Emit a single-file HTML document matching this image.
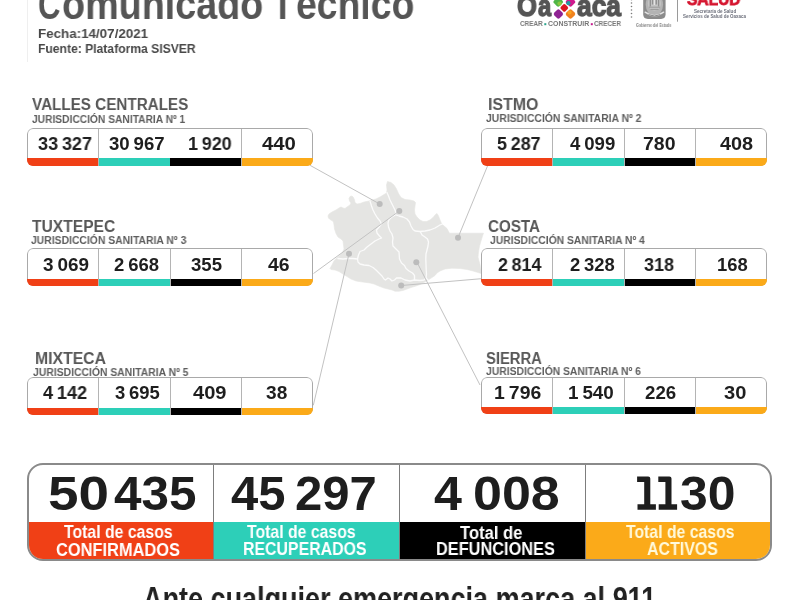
<!DOCTYPE html>
<html lang="es">
<head>
<meta charset="utf-8">
<title>Comunicado Técnico</title>
<style>
html,body{margin:0;padding:0;background:#fff}
body{width:800px;height:600px;overflow:hidden;position:relative;font-family:"Liberation Sans",sans-serif}
.t{position:absolute;white-space:nowrap;line-height:1;transform-origin:0 0;font-weight:bold;will-change:transform}
.rb{position:absolute;width:286px;border-radius:6px;overflow:hidden;background:#fff}
.rb .fr{position:absolute;left:0;top:0;right:0;bottom:0;border:1px solid #a9a9a9;border-radius:6px;box-sizing:border-box}
.rb .s{position:absolute;bottom:0;height:7px}
.rb .d{position:absolute;top:1px;bottom:0;width:1px;background:#b4b4b4}
.c1{background:#f04016}.c2{background:#2dcfb8}.c3{background:#000}.c4{background:#fbaa19}
.tot{position:absolute;left:27px;top:463px;width:745px;height:98px;box-sizing:border-box;border:2px solid #8a8a8a;border-radius:16px;overflow:hidden;background:#fff}
.tot .b{position:absolute;top:57px;bottom:0}
.tot .d{position:absolute;top:0;bottom:0;width:1px;background:#7d7d7d}
svg{position:absolute;left:0;top:0}
</style>
</head>
<body>
<!-- map + leader lines -->
<svg width="800" height="600" viewBox="0 0 800 600">
<line x1="27.5" y1="0" x2="27.5" y2="62" stroke="#efefef" stroke-width="1"/>
<polygon points="387.5,181.5 391.0,182.5 394.0,185.0 396.5,189.0 398.5,193.5 401.0,197.5 405.0,199.5 410.0,200.0 414.0,201.0 415.5,202.5 415.0,206.0 414.5,210.0 415.0,214.0 417.0,217.0 420.0,220.0 423.0,221.5 426.5,221.5 430.0,220.0 433.0,217.5 435.5,214.5 437.0,213.5 438.5,216.0 440.0,220.0 441.5,223.5 444.0,226.0 447.0,228.5 448.5,231.5 449.5,233.2 483.5,233.2 482.5,236.0 481.0,241.0 479.5,246.0 478.5,252.0 478.0,257.0 479.0,261.0 480.0,264.5 480.5,268.0 483.0,274.0 478.0,272.5 473.0,271.0 467.0,269.5 460.0,268.5 452.0,268.2 445.0,269.0 440.0,271.0 437.0,273.0 435.0,275.5 432.0,277.5 428.0,280.0 424.0,282.5 420.0,284.5 416.0,286.0 411.0,287.5 407.0,289.0 403.0,290.5 399.0,291.2 395.0,291.2 392.0,290.0 388.0,289.0 384.0,288.0 380.0,286.5 377.0,285.3 374.0,284.0 370.0,283.0 366.0,282.4 361.0,281.8 356.0,281.0 351.0,279.0 347.0,276.5 343.0,274.0 339.0,271.5 335.0,270.0 331.0,269.5 330.0,268.5 332.0,265.0 334.0,261.0 337.0,257.5 340.0,255.0 342.5,252.5 344.0,249.0 343.5,245.0 343.0,241.0 341.0,239.0 338.0,237.0 336.0,233.5 334.5,229.0 334.0,225.0 333.5,222.0 332.0,220.5 330.0,219.5 328.5,218.0 328.0,216.0 329.0,214.0 332.0,212.0 336.0,210.0 339.0,208.0 341.0,207.0 343.0,208.0 345.0,208.5 347.0,207.0 350.0,205.0 351.0,203.0 349.5,201.0 349.0,198.5 350.0,196.5 352.0,196.0 353.5,197.5 354.5,200.0 355.0,202.5 357.0,204.0 360.0,203.5 364.0,202.0 369.0,201.0 370.0,200.5 376.0,199.0 380.0,197.0 384.0,194.5 386.5,193.0 387.0,190.0 386.5,185.0" fill="#e5e5e3" stroke="#e5e5e3" stroke-width="0.6" stroke-linejoin="round"/>
<polyline points="370.0,201.0 371.5,206.0 373.0,210.0 375.0,214.0 377.5,218.0 380.0,221.0 381.5,224.0 379.0,227.0 376.5,230.0 377.0,233.0 379.5,236.0 381.5,238.0 379.0,239.0 375.0,241.0 371.0,244.0 367.0,247.0 364.0,250.0 360.0,251.5 358.5,255.0 357.5,259.0" fill="none" stroke="#fbfbfb" stroke-width="1.3" stroke-linejoin="round" stroke-linecap="round"/>
<polyline points="338.0,258.5 343.0,259.0 348.0,258.5 353.0,258.5 357.5,259.0" fill="none" stroke="#fbfbfb" stroke-width="1.3" stroke-linejoin="round" stroke-linecap="round"/>
<polyline points="357.5,259.0 358.0,262.0 360.0,264.0 364.0,265.0 369.0,265.5 373.0,267.5 376.0,270.0 379.0,273.0 382.0,276.0 384.0,279.0 385.5,280.0 388.0,278.0 390.0,279.0 392.0,281.0 394.5,280.0 396.5,278.0 401.0,278.0 405.0,280.0 410.0,281.0 414.5,280.0 420.0,280.5 424.0,280.0 426.0,278.0" fill="none" stroke="#fbfbfb" stroke-width="1.3" stroke-linejoin="round" stroke-linecap="round"/>
<polyline points="387.0,192.5 388.5,196.0 390.0,200.0 392.0,204.0 393.5,207.0 395.0,210.0 396.0,213.0 395.0,215.0 392.0,217.0 389.0,219.5 388.0,223.0 388.5,227.0 390.0,231.0 392.0,234.0 393.0,238.0 392.5,242.0 393.0,246.0 396.0,249.0 399.0,252.0 399.5,259.0 401.5,263.0 404.5,265.5 406.0,268.5 409.0,271.0 412.5,273.0 414.5,275.5 414.5,280.0" fill="none" stroke="#fbfbfb" stroke-width="1.3" stroke-linejoin="round" stroke-linecap="round"/>
<polyline points="396.0,215.0 399.0,216.0 403.0,217.0 407.0,219.0 409.5,222.0 411.0,226.0 413.0,229.5 415.0,231.0 420.0,231.5 425.0,231.0 430.0,230.0 435.0,228.0 440.0,225.0 442.5,224.0" fill="none" stroke="#fbfbfb" stroke-width="1.3" stroke-linejoin="round" stroke-linecap="round"/>
<polyline points="420.0,231.5 421.0,233.0 422.0,235.0 425.0,237.0 427.5,239.0 428.5,242.0 428.0,246.0 427.0,250.0 426.0,254.0 425.8,259.0 426.0,264.0 426.2,270.0 426.5,274.0 426.0,278.0 428.0,280.0" fill="none" stroke="#fbfbfb" stroke-width="1.3" stroke-linejoin="round" stroke-linecap="round"/>
<line x1="310.0" y1="165.3" x2="379.7" y2="204.0" stroke="#c2c2c2" stroke-width="1"/>
<line x1="313.5" y1="273.5" x2="399.3" y2="211.0" stroke="#c2c2c2" stroke-width="1"/>
<line x1="313.3" y1="405.3" x2="349.0" y2="253.8" stroke="#c2c2c2" stroke-width="1"/>
<line x1="487.5" y1="166.0" x2="458.0" y2="237.7" stroke="#c2c2c2" stroke-width="1"/>
<line x1="481.5" y1="278.7" x2="401.2" y2="285.5" stroke="#c2c2c2" stroke-width="1"/>
<line x1="480.0" y1="385.0" x2="417.0" y2="262.3" stroke="#c2c2c2" stroke-width="1"/>
<circle cx="379.7" cy="204.0" r="3" fill="#bcbcbc"/>
<circle cx="399.3" cy="211.0" r="3" fill="#bcbcbc"/>
<circle cx="349.0" cy="253.8" r="3" fill="#bcbcbc"/>
<circle cx="416.3" cy="262.3" r="3" fill="#bcbcbc"/>
<circle cx="401.2" cy="285.5" r="3" fill="#bcbcbc"/>
<circle cx="458.0" cy="237.7" r="3" fill="#bcbcbc"/>
</svg>

<!-- region boxes -->
<div class="rb" style="left:27px;top:128px;height:38px"><i class="fr"></i><i class="s c1" style="height:8px;left:0;width:71px"></i><i class="s c2" style="height:8px;left:71px;width:72px"></i><i class="s c3" style="height:8px;left:143px;width:71px"></i><i class="s c4" style="height:8px;left:214px;right:0"></i><i class="d" style="left:71px"></i><i class="d" style="left:214px"></i></div>
<div class="rb" style="left:27px;top:248px;height:38px"><i class="fr"></i><i class="s c1" style="left:0;width:71px"></i><i class="s c2" style="left:71px;width:72px"></i><i class="s c3" style="left:143px;width:71px"></i><i class="s c4" style="left:214px;right:0"></i><i class="d" style="left:71px"></i><i class="d" style="left:143px"></i><i class="d" style="left:214px"></i></div>
<div class="rb" style="left:27px;top:377px;height:38px"><i class="fr"></i><i class="s c1" style="left:0;width:71px"></i><i class="s c2" style="left:71px;width:72px"></i><i class="s c3" style="left:143px;width:71px"></i><i class="s c4" style="left:214px;right:0"></i><i class="d" style="left:71px"></i><i class="d" style="left:143px"></i><i class="d" style="left:214px"></i></div>
<div class="rb" style="left:481px;top:128px;height:38px"><i class="fr"></i><i class="s c1" style="height:8px;left:0;width:71px"></i><i class="s c2" style="height:8px;left:71px;width:72px"></i><i class="s c3" style="height:8px;left:143px;width:71px"></i><i class="s c4" style="height:8px;left:214px;right:0"></i><i class="d" style="left:71px"></i><i class="d" style="left:143px"></i><i class="d" style="left:214px"></i></div>
<div class="rb" style="left:481px;top:248px;height:38px"><i class="fr"></i><i class="s c1" style="left:0;width:71px"></i><i class="s c2" style="left:71px;width:72px"></i><i class="s c3" style="left:143px;width:71px"></i><i class="s c4" style="left:214px;right:0"></i><i class="d" style="left:71px"></i><i class="d" style="left:143px"></i><i class="d" style="left:214px"></i></div>
<div class="rb" style="left:481px;top:377px;height:37px"><i class="fr"></i><i class="s c1" style="left:0;width:71px"></i><i class="s c2" style="left:71px;width:72px"></i><i class="s c3" style="left:143px;width:71px"></i><i class="s c4" style="left:214px;right:0"></i><i class="d" style="left:71px"></i><i class="d" style="left:143px"></i><i class="d" style="left:214px"></i></div>

<!-- totals -->
<div class="tot">
  <i class="b c1" style="left:0;width:185px"></i>
  <i class="b c2" style="left:185px;width:186px"></i>
  <i class="b c3" style="left:371px;width:186px"></i>
  <i class="b c4" style="left:557px;right:0"></i>
  <i class="d" style="left:184px"></i>
  <i class="d" style="left:370px"></i>
  <i class="d" style="left:556px"></i>
</div>

<!-- logos -->
<svg width="800" height="40" viewBox="0 0 800 40">
<rect x="554.31" y="-1.99" width="7.78" height="7.78" rx="2.00" fill="#4fb547" transform="rotate(45 558.20 1.90)"/>
<circle cx="559.6" cy="3.6" r="2.2" fill="#8cc63f"/>
<rect x="566.61" y="-1.99" width="7.78" height="7.78" rx="2.00" fill="#cf1a8d" transform="rotate(45 570.50 1.90)"/>
<circle cx="568.4" cy="3.2" r="2.1" fill="#1f9aa0"/>
<rect x="554.58" y="10.18" width="7.64" height="7.64" rx="2.00" fill="#8f2393" transform="rotate(45 558.40 14.00)"/>
<rect x="566.61" y="10.11" width="7.78" height="7.78" rx="2.00" fill="#f0821e" transform="rotate(45 570.50 14.00)"/>
<circle cx="569.6" cy="12.6" r="2.0" fill="#f9a41f"/>
<rect x="561.12" y="4.72" width="6.36" height="6.36" rx="1.60" fill="#dc141e" transform="rotate(45 564.30 7.90)"/>
<rect x="544.3" y="23.2" width="2" height="2" fill="#2aa38a"/>
<rect x="590.8" y="23.2" width="2" height="2" fill="#c5198d"/>
<circle cx="631.5" cy="-0.4" r="0.8" fill="#7c7c7c"/>
<circle cx="631.5" cy="3.0" r="0.8" fill="#7c7c7c"/>
<circle cx="631.5" cy="6.5" r="0.8" fill="#7c7c7c"/>
<circle cx="631.5" cy="10.0" r="0.8" fill="#7c7c7c"/>
<circle cx="631.5" cy="13.5" r="0.8" fill="#7c7c7c"/>
<circle cx="631.5" cy="17.0" r="0.8" fill="#7c7c7c"/>
<path d="M643.2,-2 H665.6 V14.3 Q665.6,18.9 661,18.9 H647.8 Q643.2,18.9 643.2,14.3 Z" fill="#8b8b8b"/>
<ellipse cx="654.4" cy="4.5" rx="8.7" ry="11.2" fill="#b4b4b4"/>
<ellipse cx="654.4" cy="3.5" rx="6.6" ry="7.2" fill="#c4c4c4"/>
<path d="M650.3,0 V6.5 M652.6,-1 V4.5 M656.3,-1 V4.5 M658.6,0 V6.5" stroke="#909090" stroke-width="1.3"/>
<path d="M649,7.2 H660 M650.5,9.4 H658.5" stroke="#999" stroke-width="1"/>
<path d="M654.4,-1 V5" stroke="#e4e4e4" stroke-width="1.2"/>
<path d="M645.2,12.2 Q654.4,19.2 663.6,12.2" fill="none" stroke="#e2e2e2" stroke-width="1.5" stroke-linecap="round"/>
<path d="M648.5,14.6 Q654.4,17.6 660.3,14.6" fill="none" stroke="#858585" stroke-width="1"/>
<line x1="677.5" y1="0" x2="677.5" y2="21.7" stroke="#9a9a9a" stroke-width="1"/>
</svg>

<svg width="800" height="600" viewBox="0 0 800 600" style="pointer-events:none"><title>11</title>
<path d="M637.1,476.4 H648.2 Q650.3,476.4 650.3,478.5 V504.2 H655.9 V509.8 H637.5 V504.2 H644.2 V481.9 H637.1 Z" fill="#1e1e1e"/>
<path d="M637.1,476.4 H648.2 Q650.3,476.4 650.3,478.5 V504.2 H655.9 V509.8 H637.5 V504.2 H644.2 V481.9 H637.1 Z" fill="#1e1e1e" transform="translate(21.2 0)"/>
</svg>
<span class="t" style="left:38.26px;top:-16.45px;font-size:42.00px;color:#555;font-weight:bold;transform:scaleX(0.7395);">C</span>
<span class="t" style="left:62.37px;top:-16.45px;font-size:42.00px;color:#555;font-weight:bold;transform:scaleX(0.8986);">omunicado</span>
<span class="t" style="left:272.15px;top:-16.45px;font-size:42.00px;color:#555;font-weight:bold;transform:scaleX(0.8333);">T</span>
<span class="t" style="left:295.88px;top:-16.45px;font-size:42.00px;color:#555;font-weight:bold;transform:scaleX(0.8889);">écnico</span>
<span class="t" style="left:37.70px;top:26.91px;font-size:13.57px;color:#484848;font-weight:bold;transform:scaleX(0.9865);">Fecha:14/07/2021</span>
<span class="t" style="left:37.77px;top:41.51px;font-size:13.57px;color:#484848;font-weight:bold;transform:scaleX(0.8941);">Fuente: Plataforma SISVER</span>
<span class="t" style="left:31.60px;top:96.49px;font-size:17.14px;color:#575757;font-weight:bold;transform:scaleX(0.8896);">VALLES CENTRALES</span>
<span class="t" style="left:32.04px;top:217.99px;font-size:17.14px;color:#575757;font-weight:bold;transform:scaleX(0.9110);">TUXTEPEC</span>
<span class="t" style="left:35.35px;top:349.69px;font-size:17.14px;color:#575757;font-weight:bold;transform:scaleX(0.9203);">MIXTECA</span>
<span class="t" style="left:487.65px;top:95.89px;font-size:17.14px;color:#575757;font-weight:bold;transform:scaleX(0.9277);">ISTMO</span>
<span class="t" style="left:487.99px;top:218.07px;font-size:17.29px;color:#575757;font-weight:bold;transform:scaleX(0.8772);">COSTA</span>
<span class="t" style="left:485.60px;top:349.99px;font-size:17.14px;color:#575757;font-weight:bold;transform:scaleX(0.8634);">SIERRA</span>
<span class="t" style="left:32.40px;top:114.15px;font-size:10.57px;color:#5e5e5e;font-weight:bold;transform:scaleX(0.9688);">JURISDICCIÓN SANITARIA Nº 1</span>
<span class="t" style="left:31.30px;top:235.49px;font-size:11.00px;color:#5e5e5e;font-weight:bold;transform:scaleX(0.9426);">JURISDICCIÓN SANITARIA Nº 3</span>
<span class="t" style="left:33.00px;top:367.13px;font-size:10.71px;color:#5e5e5e;font-weight:bold;transform:scaleX(0.9702);">JURISDICCIÓN SANITARIA Nº 5</span>
<span class="t" style="left:485.90px;top:113.35px;font-size:10.57px;color:#5e5e5e;font-weight:bold;transform:scaleX(0.9827);">JURISDICCIÓN SANITARIA Nº 2</span>
<span class="t" style="left:490.00px;top:235.23px;font-size:10.71px;color:#5e5e5e;font-weight:bold;transform:scaleX(0.9658);">JURISDICCIÓN SANITARIA Nº 4</span>
<span class="t" style="left:485.80px;top:365.93px;font-size:10.71px;color:#5e5e5e;font-weight:bold;transform:scaleX(0.9665);">JURISDICCIÓN SANITARIA Nº 6</span>
<span class="t" style="left:37.64px;top:134.82px;font-size:18.29px;color:#1e1e1e;font-weight:bold;transform:scaleX(0.9884);word-spacing:-1.28px;">33 327</span>
<span class="t" style="left:108.63px;top:134.82px;font-size:18.29px;color:#1e1e1e;font-weight:bold;transform:scaleX(1.0182);word-spacing:-1.28px;">30 967</span>
<span class="t" style="left:187.92px;top:134.82px;font-size:18.29px;color:#1e1e1e;font-weight:bold;transform:scaleX(0.9831);word-spacing:-1.28px;">1 920</span>
<span class="t" style="left:261.80px;top:134.82px;font-size:18.29px;color:#1e1e1e;font-weight:bold;transform:scaleX(1.1124);word-spacing:-1.28px;">440</span>
<span class="t" style="left:497.46px;top:134.82px;font-size:18.29px;color:#1e1e1e;font-weight:bold;transform:scaleX(0.9799);word-spacing:-1.28px;">5 287</span>
<span class="t" style="left:569.81px;top:134.82px;font-size:18.29px;color:#1e1e1e;font-weight:bold;transform:scaleX(1.0175);word-spacing:-1.28px;">4 099</span>
<span class="t" style="left:642.82px;top:134.82px;font-size:18.29px;color:#1e1e1e;font-weight:bold;transform:scaleX(1.0647);word-spacing:-1.28px;">780</span>
<span class="t" style="left:719.80px;top:134.82px;font-size:18.29px;color:#1e1e1e;font-weight:bold;transform:scaleX(1.0855);word-spacing:-1.28px;">408</span>
<span class="t" style="left:42.62px;top:255.80px;font-size:18.43px;color:#1e1e1e;font-weight:bold;transform:scaleX(1.0276);word-spacing:-1.29px;">3 069</span>
<span class="t" style="left:114.44px;top:255.80px;font-size:18.43px;color:#1e1e1e;font-weight:bold;transform:scaleX(1.0048);word-spacing:-1.29px;">2 668</span>
<span class="t" style="left:190.93px;top:255.80px;font-size:18.43px;color:#1e1e1e;font-weight:bold;transform:scaleX(1.0101);word-spacing:-1.29px;">355</span>
<span class="t" style="left:267.61px;top:255.80px;font-size:18.43px;color:#1e1e1e;font-weight:bold;transform:scaleX(1.0536);word-spacing:-1.29px;">46</span>
<span class="t" style="left:498.46px;top:255.80px;font-size:18.43px;color:#1e1e1e;font-weight:bold;transform:scaleX(0.9697);word-spacing:-1.29px;">2 814</span>
<span class="t" style="left:570.45px;top:255.80px;font-size:18.43px;color:#1e1e1e;font-weight:bold;transform:scaleX(0.9911);word-spacing:-1.29px;">2 328</span>
<span class="t" style="left:644.04px;top:255.80px;font-size:18.43px;color:#1e1e1e;font-weight:bold;transform:scaleX(0.9767);word-spacing:-1.29px;">318</span>
<span class="t" style="left:716.90px;top:255.80px;font-size:18.43px;color:#1e1e1e;font-weight:bold;transform:scaleX(0.9945);word-spacing:-1.29px;">168</span>
<span class="t" style="left:43.42px;top:384.20px;font-size:18.43px;color:#1e1e1e;font-weight:bold;transform:scaleX(0.9869);word-spacing:-1.29px;">4 142</span>
<span class="t" style="left:114.63px;top:384.20px;font-size:18.43px;color:#1e1e1e;font-weight:bold;transform:scaleX(1.0005);word-spacing:-1.29px;">3 695</span>
<span class="t" style="left:192.80px;top:384.20px;font-size:18.43px;color:#1e1e1e;font-weight:bold;transform:scaleX(1.0904);word-spacing:-1.29px;">409</span>
<span class="t" style="left:265.62px;top:384.20px;font-size:18.43px;color:#1e1e1e;font-weight:bold;transform:scaleX(1.0383);word-spacing:-1.29px;">38</span>
<span class="t" style="left:494.43px;top:383.82px;font-size:18.29px;color:#1e1e1e;font-weight:bold;transform:scaleX(1.0627);word-spacing:-1.28px;">1 796</span>
<span class="t" style="left:567.87px;top:383.82px;font-size:18.29px;color:#1e1e1e;font-weight:bold;transform:scaleX(1.0299);word-spacing:-1.28px;">1 540</span>
<span class="t" style="left:645.44px;top:383.82px;font-size:18.29px;color:#1e1e1e;font-weight:bold;transform:scaleX(1.0239);word-spacing:-1.28px;">226</span>
<span class="t" style="left:724.00px;top:383.82px;font-size:18.29px;color:#1e1e1e;font-weight:bold;transform:scaleX(1.0977);word-spacing:-1.28px;">30</span>
<span class="t" style="left:47.95px;top:469.83px;font-size:47.57px;color:#1e1e1e;font-weight:bold;transform:scaleX(1.1534);word-spacing:-3.33px;">50</span>
<span class="t" style="left:113.91px;top:469.83px;font-size:47.57px;color:#1e1e1e;font-weight:bold;transform:scaleX(1.0393);word-spacing:-3.33px;">435</span>
<span class="t" style="left:230.51px;top:469.83px;font-size:47.57px;color:#1e1e1e;font-weight:bold;transform:scaleX(1.0294);word-spacing:-3.33px;">45</span>
<span class="t" style="left:295.03px;top:469.83px;font-size:47.57px;color:#1e1e1e;font-weight:bold;transform:scaleX(1.0312);word-spacing:-3.33px;">297</span>
<span class="t" style="left:433.90px;top:469.83px;font-size:47.57px;color:#1e1e1e;font-weight:bold;transform:scaleX(1.0549);word-spacing:-3.33px;">4</span>
<span class="t" style="left:473.24px;top:469.83px;font-size:47.57px;color:#1e1e1e;font-weight:bold;transform:scaleX(1.0939);word-spacing:-3.33px;">008</span>
<span class="t" style="left:680.20px;top:469.83px;font-size:47.57px;color:#1e1e1e;font-weight:bold;transform:scaleX(1.0489);word-spacing:-3.33px;">30</span>
<span class="t" style="left:63.74px;top:523.44px;font-size:18.14px;color:#fff;font-weight:bold;transform:scaleX(0.8720);">Total de casos</span>
<span class="t" style="left:56.44px;top:541.16px;font-size:18.00px;color:#fff;font-weight:bold;transform:scaleX(0.9115);">CONFIRMADOS</span>
<span class="t" style="left:247.09px;top:523.34px;font-size:18.14px;color:#fff;font-weight:bold;transform:scaleX(0.8720);">Total de casos</span>
<span class="t" style="left:242.95px;top:541.20px;font-size:17.71px;color:#fff;font-weight:bold;transform:scaleX(0.8980);">RECUPERADOS</span>
<span class="t" style="left:460.23px;top:523.86px;font-size:18.00px;color:#fff;font-weight:bold;transform:scaleX(0.9207);">Total de</span>
<span class="t" style="left:436.12px;top:541.25px;font-size:17.43px;color:#fff;font-weight:bold;transform:scaleX(0.9372);">DEFUNCIONES</span>
<span class="t" style="left:626.24px;top:523.24px;font-size:18.14px;color:#fffadc;font-weight:bold;transform:scaleX(0.8708);">Total de casos</span>
<span class="t" style="left:647.08px;top:541.45px;font-size:17.43px;color:#fffadc;font-weight:bold;transform:scaleX(0.9153);">ACTIVOS</span>
<span class="t" style="left:143.06px;top:581.90px;font-size:33.43px;color:#222;font-weight:bold;transform:scaleX(0.8077);">Ante cualquier emergencia marca al 911</span>
<span class="t" style="left:516.58px;top:-9.30px;font-size:30.00px;color:#555;font-weight:bold;transform:scaleX(0.8524);-webkit-text-stroke:1.4px #555;">O</span>
<span class="t" style="left:537.93px;top:-9.30px;font-size:30.00px;color:#555;font-weight:bold;transform:scaleX(0.7879);-webkit-text-stroke:1.4px #555;">a</span>
<span class="t" style="left:576.87px;top:-9.30px;font-size:30.00px;color:#555;font-weight:bold;transform:scaleX(0.8783);-webkit-text-stroke:1.4px #555;">aca</span>
<span class="t" style="left:519.95px;top:21.42px;font-size:6.71px;color:#777;font-weight:bold;transform:scaleX(0.9480);">CREAR</span>
<span class="t" style="left:548.22px;top:21.42px;font-size:6.71px;color:#777;font-weight:bold;transform:scaleX(1.0364);">CONSTRUIR</span>
<span class="t" style="left:593.94px;top:21.42px;font-size:6.71px;color:#777;font-weight:bold;transform:scaleX(0.9499);">CRECER</span>
<span class="t" style="left:636.45px;top:23.65px;font-size:4.43px;color:#858585;font-weight:bold;transform:scaleX(0.8187);">Gobierno del Estado</span>
<span class="t" style="left:687.09px;top:-8.03px;font-size:16.57px;color:#d5152f;font-weight:bold;transform:scaleX(0.9375);-webkit-text-stroke:0.8px #d5152f;">SALUD</span>
<span class="t" style="left:693.91px;top:9.75px;font-size:4.43px;color:#6c6f7b;font-weight:bold;transform:scaleX(1.0307);">Secretaría de Salud</span>
<span class="t" style="left:682.71px;top:15.35px;font-size:4.43px;color:#6c6f7b;font-weight:bold;transform:scaleX(1.0073);">Servicios de Salud de Oaxaca</span>
</body>
</html>
